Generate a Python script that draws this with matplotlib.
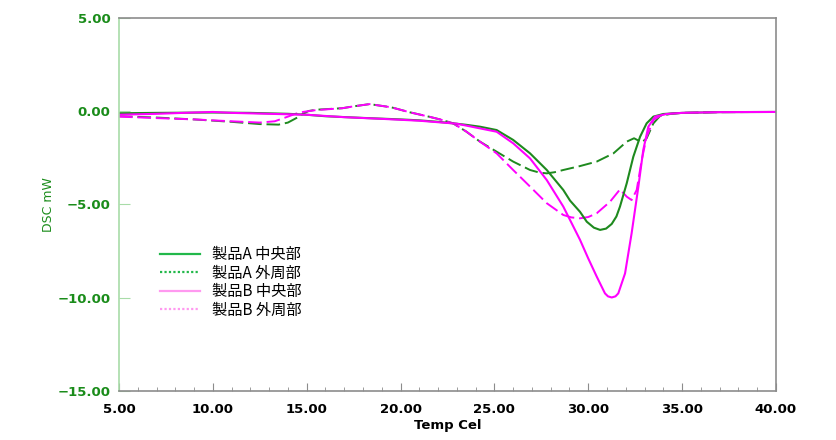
import matplotlib
matplotlib.use('Agg')
import matplotlib.pyplot as plt
from matplotlib.lines import Line2D
from matplotlib.ticker import MultipleLocator

plt.rcParams['font.family'] = ['Noto Sans CJK JP', 'DejaVu Sans']

# 製品A 中央部 (solid green)
a_mid_x = [5.0, 7.0, 10.0, 12.0, 14.0, 15.0, 16.0, 18.0, 20.0, 21.0, 22.0, 22.8, 23.5, 24.23,
           25.12, 26.0, 26.9, 27.79, 28.67, 29.03, 29.56, 29.92, 30.3, 30.63, 30.95, 31.25,
           31.5, 31.69, 32.05, 32.4, 32.76, 33.11, 33.47, 34.0, 35.0, 37.0, 40.0]
a_mid_y = [-0.12, -0.1, -0.08, -0.1, -0.15, -0.2, -0.28, -0.37, -0.45, -0.5, -0.58, -0.66, -0.74, -0.84,
           -1.02, -1.55, -2.27, -3.16, -4.23, -4.8, -5.4, -5.93, -6.25, -6.37, -6.3, -6.05,
           -5.65, -5.12, -3.87, -2.45, -1.38, -0.66, -0.3, -0.16, -0.1, -0.06, -0.05]

# 製品A 外周部 (dashed green)
a_out_x = [5.0, 7.0, 9.0, 11.0, 12.5, 13.5, 14.0, 14.5, 14.8, 15.1, 15.5, 16.9, 17.5, 18.35, 19.5,
           20.5, 21.5, 22.1, 22.8, 23.5, 24.23, 25.12, 26.0, 26.9, 27.4, 27.79, 28.2, 28.67,
           29.56, 30.45, 31.34, 32.05, 32.44, 32.85, 33.11, 33.47, 33.82, 34.36, 35.0, 37.0, 40.0]
a_out_y = [-0.28, -0.35, -0.45, -0.58, -0.7, -0.73, -0.62, -0.35, -0.15, 0.0, 0.07, 0.15, 0.25, 0.37, 0.2,
           -0.07, -0.3, -0.45, -0.66, -1.1, -1.64, -2.18, -2.71, -3.16, -3.3, -3.34, -3.28, -3.16,
           -2.95, -2.71, -2.27, -1.64, -1.46, -1.68, -1.46, -0.66, -0.27, -0.16, -0.1, -0.06, -0.05]

# 製品B 中央部 (solid magenta)
b_mid_x = [5.0, 7.0, 9.0, 10.0, 11.0, 13.0, 15.0, 17.0, 19.0, 21.0, 22.0, 23.0, 24.23,
           25.12, 26.0, 26.9, 27.79, 28.67, 29.56, 30.0, 30.45, 30.89, 31.05, 31.25, 31.45, 31.6,
           31.96, 32.31, 32.67, 32.93, 33.2, 33.56, 34.18, 35.0, 37.0, 40.0]
b_mid_y = [-0.2, -0.15, -0.08, -0.05, -0.1, -0.15, -0.2, -0.33, -0.42, -0.52, -0.6, -0.68, -0.93,
           -1.11, -1.73, -2.54, -3.7, -5.12, -6.9, -7.9, -8.87, -9.77, -9.93, -9.99, -9.93, -9.77,
           -8.7, -6.55, -4.05, -2.09, -0.84, -0.3, -0.16, -0.1, -0.06, -0.05]

# 製品B 外周部 (dashed magenta)
b_out_x = [5.0, 7.0, 9.0, 11.0, 12.5, 13.3, 14.0, 14.4, 14.8, 15.5, 16.9, 17.5, 18.35, 19.5, 20.5,
           21.5, 22.1, 22.8, 23.5, 24.23, 25.12, 26.0, 26.9, 27.79, 28.67, 29.1, 29.56, 30.0, 30.45,
           31.16, 31.69, 32.05, 32.31, 32.58, 32.85, 33.11, 33.47, 33.91, 34.5, 35.0, 37.0, 40.0]
b_out_y = [-0.3, -0.38, -0.45, -0.55, -0.62, -0.55, -0.3, -0.15, -0.05, 0.05, 0.15, 0.25, 0.37, 0.2, -0.07,
           -0.3, -0.45, -0.66, -1.1, -1.64, -2.27, -3.16, -4.05, -4.94, -5.57, -5.7, -5.75, -5.68, -5.48,
           -4.86, -4.2, -4.59, -4.77, -4.23, -2.62, -1.38, -0.48, -0.21, -0.12, -0.1, -0.06, -0.05]

labels = ['製品A 中央部', '製品A 外周部', '製品B 中央部', '製品B 外周部']
x_ticks = [5, 10, 15, 20, 25, 30, 35, 40]
x_tick_labels = ['5.00', '10.00', '15.00', '20.00', '25.00', '30.00', '35.00', '40.00']
y_ticks = [5, 0, -5, -10, -15]
y_tick_labels = ['5.00', '0.00', '\u22125.00', '\u221210.00', '\u221215.00']

green = '#1e8a1e'
magenta = '#ff00ff'
tick_green = '#1a8c1a'

fig = plt.figure(figsize=(8.36, 4.4), dpi=100)
ax = fig.add_axes([0.1423, 0.1114, 0.7859, 0.8484])

ax.plot(a_out_x, a_out_y, color=green, lw=1.4, dashes=(7, 2.5))
ax.plot(b_out_x, b_out_y, color=magenta, lw=1.4, dashes=(7, 2.5))
ax.plot(a_mid_x, a_mid_y, color=green, lw=1.5)
ax.plot(b_mid_x, b_mid_y, color=magenta, lw=1.5)

ax.set_xlim(5, 40)
ax.set_ylim(-15, 5)
ax.set_xticks(x_ticks, x_tick_labels)
ax.xaxis.set_minor_locator(MultipleLocator(1))
ax.set_yticks(y_ticks, y_tick_labels)

for s in ['top', 'right', 'bottom']:
    ax.spines[s].set_color('#8c8c8c')
    ax.spines[s].set_linewidth(1.2)
ax.spines['left'].set_color('#a8dca8')
ax.spines['left'].set_linewidth(1.2)

ax.tick_params(axis='x', which='major', direction='in', length=6, color='#8c8c8c',
               labelsize=9.5, pad=9)
ax.tick_params(axis='x', which='minor', direction='in', length=3, color='#8c8c8c')
ax.tick_params(axis='y', which='major', direction='in', length=8, color='#a8dca8',
               labelsize=9.5, labelcolor=tick_green, pad=6)
for t in ax.get_xticklabels() + ax.get_yticklabels():
    t.set_fontweight('bold')
    t.set_family('DejaVu Sans')

ax.set_xlabel('Temp Cel', fontsize=9.5, fontweight='bold', family='DejaVu Sans', labelpad=2)
ax.set_ylabel('DSC mW', fontsize=9, color=tick_green, family='DejaVu Sans', labelpad=2)

handles = [Line2D([], [], color='#22b84a', lw=1.6),
           Line2D([], [], color='#22b84a', lw=1.6, ls=(0, (1, 1))),
           Line2D([], [], color='#ff99f0', lw=1.6),
           Line2D([], [], color='#ff99f0', lw=1.6, ls=(0, (1, 1)))]
ax.legend(handles, labels, loc='upper left', bbox_to_anchor=(0.184, 0.455),
          bbox_transform=fig.transFigure, frameon=False, fontsize=11,
          handlelength=2.6, handletextpad=0.8, labelspacing=0.1, borderaxespad=0)

fig.savefig('out.png', dpi=100)
